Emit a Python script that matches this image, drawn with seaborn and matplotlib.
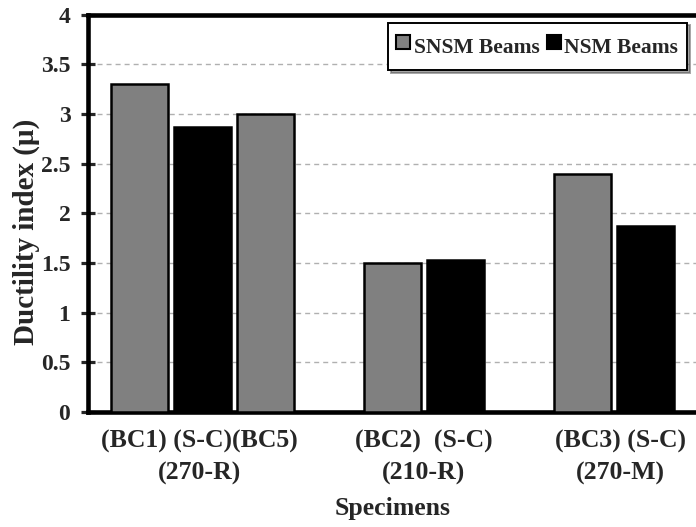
import pandas as pd
import matplotlib.pyplot as plt
import seaborn as sns
from matplotlib.lines import Line2D

# Data
specimens = ['(BC1)', '(S-C)', '(BC5)', '(BC2)', '(S-C)', '(BC3)', '(S-C)']
beam_type = ['SNSM Beams', 'NSM Beams', 'SNSM Beams', 'SNSM Beams', 'NSM Beams', 'SNSM Beams', 'NSM Beams']
ductility = [3.30, 2.87, 3.00, 1.50, 1.53, 2.40, 1.87]
slots = [0, 1, 2, 4, 5, 7, 8]
group_labels = ['(BC1) (S-C)(BC5)\n(270-R)', '(BC2)  (S-C)\n(210-R)', '(BC3) (S-C)\n(270-M)']
group_pos = [0.95, 4.5, 7.6]
colors = {'SNSM Beams': '#808080', 'NSM Beams': '#000000'}

df = pd.DataFrame({'slot': slots, 'specimen': specimens, 'type': beam_type, 'mu': ductility})

sns.set_style('white')
plt.rcParams['font.family'] = ['Liberation Serif', 'DejaVu Serif']
plt.rcParams['font.weight'] = 'bold'

fig, ax = plt.subplots(figsize=(6.96, 5.27), dpi=100)
fig.subplots_adjust(left=0.127, right=1.0, top=0.972, bottom=0.218)

sns.barplot(data=df, x='slot', y='mu', hue='type', native_scale=True, dodge=False,
            palette=colors, hue_order=['SNSM Beams', 'NSM Beams'],
            width=0.9, edgecolor='black', linewidth=1.8, ax=ax, zorder=3, legend=False)

ax.set_xlim(-0.8, 8.8)
ax.set_ylim(0, 4)
ax.set_yticks([0, 0.5, 1, 1.5, 2, 2.5, 3, 3.5, 4])
ax.set_yticklabels(['0', '0.5', '1', '1.5', '2', '2.5', '3', '3.5', '4'], fontsize=17, fontweight='bold')
ax.yaxis.grid(True, linestyle=(0, (3.6, 2.9)), color='#b0b0b0', linewidth=1, zorder=0)
ax.tick_params(axis='y', direction='inout', length=10, width=2.3, left=True, pad=8)

ax.set_xticks(group_pos)
ax.set_xticklabels(group_labels, fontsize=18.5, fontweight='bold', linespacing=1.45)
ax.tick_params(axis='x', length=0, pad=13)

ax.set_ylabel('Ductility index (μ)', fontsize=21, fontweight='bold')
ax.yaxis.set_label_coords(-0.08, 0.453)
ax.set_xlabel('Specimens', fontsize=18.5, fontweight='bold', labelpad=9)

for s in ['left', 'bottom', 'top']:
    ax.spines[s].set_linewidth(3.3)
    ax.spines[s].set_color('black')
ax.spines['right'].set_visible(False)

handles = [Line2D([], [], marker='s', linestyle='', markersize=9.5,
                  markerfacecolor=colors[k], markeredgecolor='black', markeredgewidth=1.5)
           for k in ['SNSM Beams', 'NSM Beams']]
leg = ax.legend(handles, ['SNSM Beams', 'NSM Beams'], loc='upper right',
                bbox_to_anchor=(0.985, 0.98), ncol=2, frameon=True,
                shadow=True, fancybox=False, fontsize=15.5, handlelength=0.6, handleheight=1.8,
                handletextpad=0.2, columnspacing=0.35, borderpad=0.4, borderaxespad=0)
leg.get_frame().set_edgecolor('black')
leg.get_frame().set_linewidth(1.4)

plt.savefig('out.png', dpi=100)
plt.close()
